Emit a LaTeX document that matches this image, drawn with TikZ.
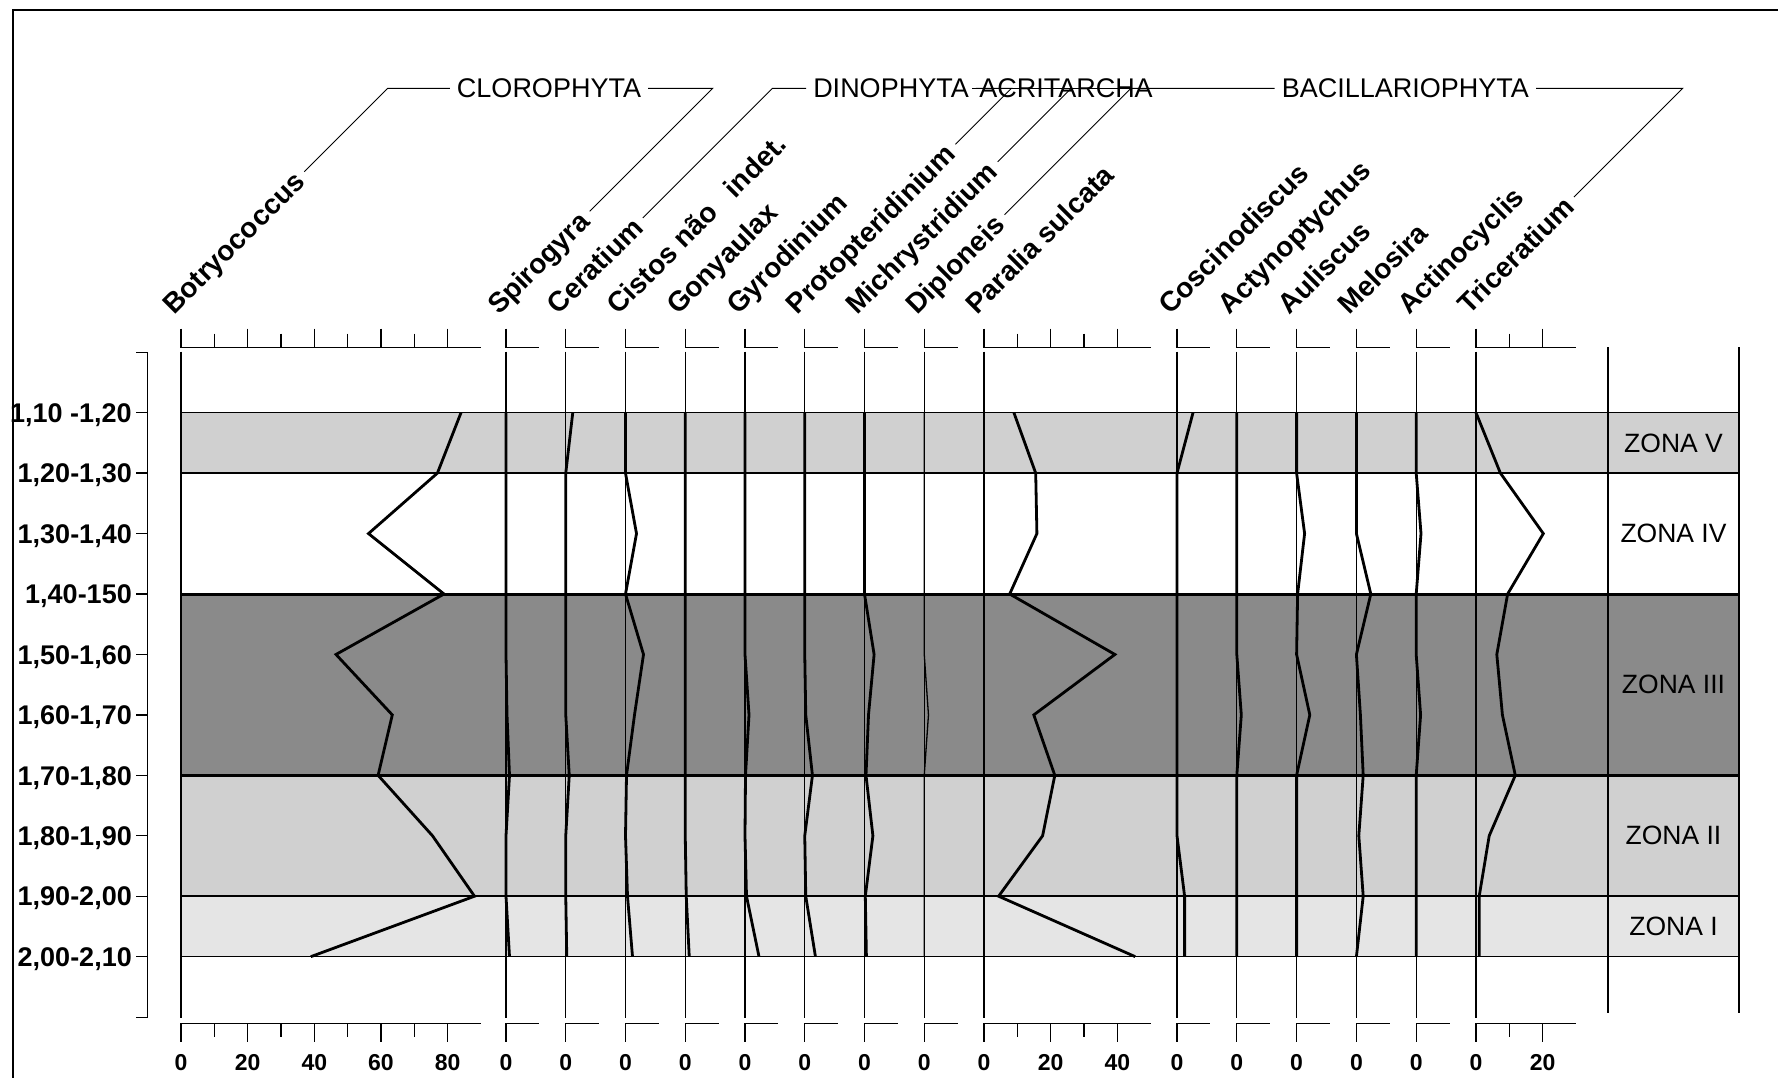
\documentclass[tikz,border=0pt]{standalone}
\usepackage{fontspec}
\setmainfont{Liberation Sans}
\usetikzlibrary{calc}
\definecolor{zlight}{gray}{0.815}
\definecolor{zdark}{gray}{0.54}
\definecolor{zpale}{gray}{0.9}
\tikzset{
  grp/.style={font=\fontsize{27}{30}\selectfont, inner ysep=0pt, inner xsep=7pt},
  sp/.style={font=\fontsize{28}{32}\selectfont\bfseries, rotate=45, anchor=base west, inner sep=0pt},
  dep/.style={font=\fontsize{27}{30}\selectfont\bfseries, anchor=base east, inner sep=0pt},
  num/.style={font=\fontsize{23}{26}\selectfont\bfseries, anchor=base, inner sep=0pt},
  zone/.style={font=\fontsize{26.5}{30}\selectfont, inner sep=0pt},
  conn/.style={line width=1pt},
  axisline/.style={line width=1.3pt},
  dataline/.style={line width=2.8pt},
}
\newcommand\datacurve[4][dataline]{%
  \draw[#1] (#2+#3,412.7) \foreach \v [count=\r] in {#4} {-- (#2+\v,412.7+60.44*\r)};}
\begin{document}
\begin{tikzpicture}[x=1pt,y=-1pt]
\useasboundingbox (0,0) rectangle (1778,1078);
\fill[white] (0,0) rectangle (1778,1078);
% frame
\draw[line width=2pt] (1790,10) -- (12.7,10) -- (12.7,1090);
% zone bands
\fill[zlight] (181,412.7) rectangle (1739,473.14);
\fill[zdark]  (181,594.02) rectangle (1739,775.34);
\fill[zlight] (181,775.34) rectangle (1739,896.22);
\fill[zpale]  (181,896.22) rectangle (1739,956.66);
% separators at right
\draw[axisline] (1608,347) -- (1608,1013);
\draw[axisline] (1739,347) -- (1739,1013);
\draw[line width=2.2pt] (1739,412.7) -- (1739,956.66);
% species axes, column lines, ticks, numbers
\foreach \i/\x/\len/\nt in {1/181/90/8, 2/506/10/0, 3/565.75/10/0, 4/625.5/10/0, 5/685.25/10/0, 6/745/10/0, 7/804.75/10/0, 8/864.5/10/0, 9/924.25/10/0, 10/984/50/4, 11/1177/10/0, 12/1236.8/10/0, 13/1296.6/10/0, 14/1356.4/10/0, 15/1416.2/10/0, 16/1476/30/2} {
  \draw[axisline] (\x,347.7) -- (\x+\len*3.3333,347.7);
  \draw[axisline] (\x,1023.3) -- (\x+\len*3.3333,1023.3);
  \draw[axisline] (\x,351.7) -- (\x,1018.3);
  \foreach \k in {0,...,\nt} {
    \pgfmathsetmacro\tx{\x+\k*33.333}
    \ifodd\k\relax
      \draw[axisline] (\tx,333.7) -- (\tx,347.7) (\tx,1023.3) -- (\tx,1037.3);
    \else
      \draw[axisline] (\tx,328.7) -- (\tx,347.7) (\tx,1023.3) -- (\tx,1042.3);
      \pgfmathtruncatemacro\val{\k*10}
      \node[num] (n\i-\k) at (\tx,1070.5) {\val};
    \fi
  }
}
% zone boundary lines
\draw[line width=1.2pt] (181,412.7) -- (1739,412.7);
\draw[line width=2.2pt] (181,473.14) -- (1739,473.14);
\draw[line width=3pt] (181,594.02) -- (1739,594.02);
\draw[line width=3pt] (181,775.34) -- (1739,775.34);
\draw[line width=2.2pt] (181,896.22) -- (1739,896.22);
\draw[line width=1.2pt] (181,956.66) -- (1739,956.66);
% depth axis
\draw[axisline] (136.3,352.7) -- (147.3,352.7) -- (147.3,1017.3) -- (136.3,1017.3);
\foreach \r in {0,...,9} \draw[axisline] (136.3,412.7+60.44*\r) -- (147.3,412.7+60.44*\r);
\node[dep] (d0) at (132,422.4) {1,10 -1,20};
\node[dep] (d1) at (132,482.84) {1,20-1,30};
\node[dep] (d2) at (132,543.28) {1,30-1,40};
\node[dep] (d3) at (132,603.72) {1,40-150};
\node[dep] (d4) at (132,664.16) {1,50-1,60};
\node[dep] (d5) at (132,724.6) {1,60-1,70};
\node[dep] (d6) at (132,785.04) {1,70-1,80};
\node[dep] (d7) at (132,845.48) {1,80-1,90};
\node[dep] (d8) at (132,905.92) {1,90-2,00};
\node[dep] (d9) at (132,966.36) {2,00-2,10};
% data curves
\datacurve{181}{280}{256.4,187.5,263,155,211.3,197.1,251.5,293.5,129.8}
\datacurve{506}{0}{0,0,0,0,1,3.5,0,0,3.5}
\datacurve{565.75}{7}{0,0,0,0,0,3.5,0,0,1}
\datacurve{625.5}{0}{0,11,0,18,9,1,0,2,7}
\datacurve{685.25}{0}{0,0,0,0,0,0,0,1,4}
\datacurve{745}{0}{0,0,0,0,4,0.5,0,1.5,14}
\datacurve{804.75}{0}{0,0,0,0,1,7.7,0,1,10.7}
\datacurve{864.5}{0}{0,0,0,9.6,4,1.5,8.4,0.8,1.9}
\datacurve[axisline]{924.25}{0}{0,0,0,0,4.2,0,0,0,0}
\datacurve{984}{29.9}{51.7,52.9,25.7,130.9,49.8,70.8,58.6,14.6,151.2}
\datacurve{1177}{16}{0,0,0,0,0,0,0,7.6,7.6}
\datacurve{1236.8}{0}{0,0,0,0,4.5,0,0,0,0}
\datacurve{1296.6}{0}{0,8,1,0,13.2,0,0,0,0}
\datacurve{1356.4}{0}{0,0,14.4,0,4,6.8,2.4,6.8,0}
\datacurve{1416.2}{0}{0,4.8,0,0,4.4,0,0,0,0}
\datacurve{1476}{0}{24.4,67.3,31.6,20.8,26.4,39.3,13.2,3.2,3.2}
% zone labels
\node[zone] (z5) at (1673.5,442.9) {ZONA V};
\node[zone] (z4) at (1673.5,533.6) {ZONA IV};
\node[zone] (z3) at (1673.5,684.7) {ZONA III};
\node[zone] (z2) at (1673.5,835.8) {ZONA II};
\node[zone] (z1) at (1673.5,926.4) {ZONA I};
% species labels
\foreach \i/\x/\t in {1/181/Botryococcus, 2/506/Spirogyra, 3/565.75/Ceratium, 4/625.5/{Cistos não\hspace{22pt}indet.}, 5/685.25/Gonyaulax, 6/745/Gyrodinium, 7/804.75/Protopteridinium, 8/864.5/Michrystridium, 9/924.25/Diploneis, 10/984/Paralia sulcata, 11/1177/Coscinodiscus, 12/1236.8/Actynoptychus, 13/1296.6/Auliscus, 14/1356.4/Melosira, 15/1416.2/Actinocyclis, 16/1476/Triceratium} {
  \node[sp] (s\i) at (\x-7,316) {\t};
  \coordinate (p\i) at ($(s\i.base east)!-7pt!(s\i.base west)+(-7,-7)$);
  \coordinate (c\i) at (\x+206.7,88.3);
}
% group labels
\node[grp] (clo) at (549,88.3) {CLOROPHYTA};
\node[grp] (dino) at (891,88.3) {DINOPHYTA};
\node[grp] (acri) at (1066,88.3) {ACRITARCHA};
\node[grp] (baci) at (1405.3,88.3) {BACILLARIOPHYTA};
% connectors
\draw[conn] (p1) -- (c1) -- (clo.west);
\draw[conn] (p2) -- (c2) -- (clo.east);
\draw[conn] (p3) -- (c3) -- (dino.west);
\draw[conn] (p7) -- (c7) -- (dino.east);
\draw[conn] (p8) -- (c8);
\draw[conn] (acri.west) -- (acri.east);
\draw[conn] (p9) -- (c9) -- (baci.west);
\draw[conn] (p16) -- (c16) -- (baci.east);
\end{tikzpicture}
\end{document}
